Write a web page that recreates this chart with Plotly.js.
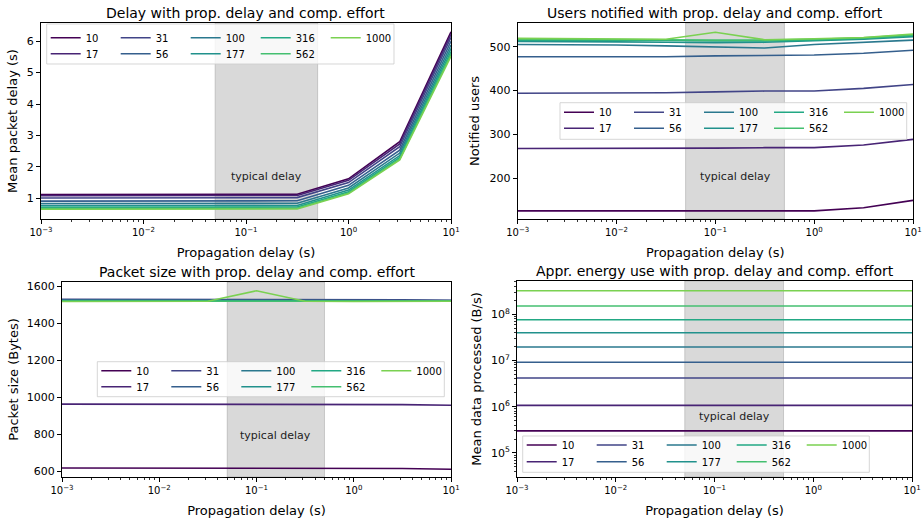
<!DOCTYPE html>
<html>
<head>
<meta charset="utf-8">
<script src="https://cdn.plot.ly/plotly-3.0.1.min.js"></script>
<style>html,body{margin:0;padding:0;background:#fff;}#chart{width:922px;height:521px;}</style>
</head>
<body>
<div id="chart"></div>
<script>
// ---- data ----
const efforts = ['10', '17', '31', '56', '100', '177', '316', '562', '1000'];
const propDelay = [0.001, 0.00316, 0.01, 0.0316, 0.1, 0.316, 1, 3.16, 10];

const delay10   = [1.12, 1.12, 1.12, 1.12, 1.12, 1.13, 1.62, 2.80, 6.30];
const delay17   = [1.08, 1.08, 1.08, 1.08, 1.08, 1.09, 1.57, 2.73, 6.22];
const delay31   = [1.01, 1.01, 1.01, 1.01, 1.01, 1.02, 1.50, 2.64, 6.12];
const delay56   = [0.91, 0.91, 0.91, 0.91, 0.91, 0.92, 1.41, 2.53, 6.00];
const delay100  = [0.83, 0.83, 0.83, 0.83, 0.83, 0.84, 1.33, 2.44, 5.88];
const delay177  = [0.76, 0.76, 0.76, 0.76, 0.76, 0.77, 1.26, 2.36, 5.77];
const delay316  = [0.71, 0.71, 0.71, 0.71, 0.71, 0.72, 1.21, 2.30, 5.67];
const delay562  = [0.67, 0.67, 0.67, 0.67, 0.67, 0.68, 1.17, 2.25, 5.59];
const delay1000 = [0.65, 0.65, 0.65, 0.65, 0.65, 0.66, 1.14, 2.22, 5.52];

const users10   = [126, 126, 126, 126, 126, 127, 126, 133, 150];
const users17   = [268, 268, 268, 268, 269, 270, 270, 276, 289];
const users31   = [394, 394, 395, 395, 397, 399, 399, 405, 414];
const users56   = [477, 477, 477, 477, 479, 480, 481, 485, 492];
const users100  = [505, 505, 504, 502, 500, 497, 505, 510, 515];
const users177  = [512, 512, 511, 510, 509, 510, 513, 517, 523];
const users316  = [515, 515, 515, 514, 513, 513, 515, 519, 525];
const users562  = [517, 517, 517, 516, 515, 515, 517, 520, 527];
const users1000 = [519, 518, 517, 517, 533, 516, 518, 521, 529];

const size10   = [620, 620, 620, 620, 620, 619, 618, 617, 613];
const size17   = [965, 965, 964, 964, 964, 963, 963, 962, 959];
const size31   = [1531, 1531, 1531, 1531, 1530, 1530, 1530, 1529, 1526];
const size56   = [1528, 1528, 1528, 1528, 1528, 1528, 1527, 1526, 1525];
const size100  = [1526, 1526, 1526, 1526, 1526, 1526, 1525, 1525, 1524];
const size177  = [1524, 1524, 1524, 1524, 1524, 1524, 1524, 1523, 1523];
const size316  = [1522, 1522, 1522, 1522, 1522, 1522, 1522, 1522, 1522];
const size562  = [1521, 1521, 1521, 1521, 1521, 1521, 1521, 1521, 1521];
const size1000 = [1520, 1520, 1520, 1521, 1578, 1521, 1520, 1520, 1521];

const data10   = [3.0e5, 3.0e5, 3.0e5, 3.0e5, 3.0e5, 3.0e5, 3.0e5, 3.0e5, 3.0e5];
const data17   = [1.07e6, 1.07e6, 1.07e6, 1.07e6, 1.07e6, 1.07e6, 1.07e6, 1.07e6, 1.07e6];
const data31   = [4.2e6, 4.2e6, 4.2e6, 4.2e6, 4.2e6, 4.2e6, 4.2e6, 4.2e6, 4.2e6];
const data56   = [9.2e6, 9.2e6, 9.2e6, 9.2e6, 9.2e6, 9.2e6, 9.2e6, 9.2e6, 9.2e6];
const data100  = [1.96e7, 1.96e7, 1.96e7, 1.96e7, 1.96e7, 1.96e7, 1.96e7, 1.96e7, 1.96e7];
const data177  = [3.98e7, 3.98e7, 3.98e7, 3.98e7, 3.98e7, 3.98e7, 3.98e7, 3.98e7, 3.98e7];
const data316  = [7.6e7, 7.6e7, 7.6e7, 7.6e7, 7.6e7, 7.6e7, 7.6e7, 7.6e7, 7.6e7];
const data562  = [1.51e8, 1.51e8, 1.51e8, 1.51e8, 1.51e8, 1.51e8, 1.51e8, 1.51e8, 1.51e8];
const data1000 = [3.22e8, 3.22e8, 3.22e8, 3.23e8, 3.32e8, 3.23e8, 3.22e8, 3.22e8, 3.22e8];

const xTickVals = [0.001, 0.01, 0.1, 1, 10];
const xTickText = ['10<sup>\u22123</sup>', '10<sup>\u22122</sup>', '10<sup>\u22121</sup>', '10<sup>0</sup>', '10<sup>1</sup>'];
const yTickVals4 = [1e5, 1e6, 1e7, 1e8];
const yTickText4 = ['10<sup>5</sup>', '10<sup>6</sup>', '10<sup>7</sup>', '10<sup>8</sup>'];

const titles = [
  'Delay with prop. delay and comp. effort',
  'Users notified with prop. delay and comp. effort',
  'Packet size with prop. delay and comp. effort',
  'Appr. energy use with prop. delay and comp. effort'
];
const yTitles = ['Mean packet delay (s)', 'Notified users', 'Packet size (Bytes)', 'Mean data processed (B/s)'];
const xTitle = 'Propagation delay (s)';
const typicalLabel = 'typical delay';
const typicalRange = [0.05, 0.5];

// ---- styling ----
const colors = ['#440154', '#482475', '#414487', '#355f8d', '#2a788e', '#21918c', '#22a884', '#44bf70', '#7ad151'];
const W = 922, H = 521;
const FONT = 'DejaVu Sans, Liberation Sans, sans-serif';
const px = v => v / W;
const py = v => 1 - v / H;

// subplot boxes in pixels: [left, right, top, bottom]
const boxes = [
  [41, 451, 23, 219],
  [517.7, 913, 23, 219],
  [62, 451, 282, 477],
  [517, 912, 281, 477]
];

const seriesSets = [
  [delay10, delay17, delay31, delay56, delay100, delay177, delay316, delay562, delay1000],
  [users10, users17, users31, users56, users100, users177, users316, users562, users1000],
  [size10, size17, size31, size56, size100, size177, size316, size562, size1000],
  [data10, data17, data31, data56, data100, data177, data316, data562, data1000]
];

// legend boxes [left, right, top, bottom] and row centres
const legBoxes = [
  [46.7, 394, 24, 64, 37.7, 53.7],
  [560, 906.7, 102.7, 139.3, 112.3, 128.3],
  [97.3, 444.3, 361.7, 396.7, 370.7, 386.7],
  [522.7, 869.3, 436, 472.3, 445, 461.7]
];

const traces = [];
seriesSets.forEach((set, p) => {
  const sfx = p === 0 ? '' : String(p + 1);
  set.forEach((ys, i) => {
    const row = (i % 2 === 0) ? 0 : 1;
    const legName = 'legend' + ((p * 2 + row) === 0 ? '' : String(p * 2 + row + 1));
    traces.push({
      type: 'scatter', mode: 'lines',
      x: propDelay, y: ys,
      name: efforts[i],
      xaxis: 'x' + sfx, yaxis: 'y' + sfx,
      line: {color: colors[i], width: 1.6},
      legend: legName,
      showlegend: true
    });
  });
});

function minorVals(lo, hi) {
  const out = [];
  for (let k = lo; k < hi; k++) for (let d = 2; d <= 9; d++) out.push(d * Math.pow(10, k));
  return out;
}

const layout = {
  width: W, height: H,
  margin: {l: 0, r: 0, t: 0, b: 0},
  paper_bgcolor: '#ffffff', plot_bgcolor: '#ffffff',
  font: {family: FONT, color: '#000', size: 11},
  shapes: [], annotations: []
};

const yRanges = [[0.34, 6.58], [107.5, 554], [571, 1625], [4.48, 8.72]];
const yTicks = [[1, 2, 3, 4, 5, 6], [200, 300, 400, 500], [600, 800, 1000, 1200, 1400, 1600], yTickVals4];
const typY = [1.69, 204, 798, 5.78];
const yStand = [6, 6, 5, 6];

boxes.forEach((b, p) => {
  const sfx = p === 0 ? '' : String(p + 1);
  const axBase = {
    showline: true, mirror: true, linecolor: '#000', linewidth: 1,
    ticks: 'outside', ticklen: 4, tickwidth: 1, tickcolor: '#000',
    showgrid: false, zeroline: false, ticklabeloverflow: 'allow'
  };
  layout['xaxis' + sfx] = Object.assign({}, axBase, {
    type: 'log', range: [-3, 1], domain: [px(b[0]), px(b[1])],
    anchor: 'y' + sfx,
    tickfont: {family: FONT, size: 10, color: '#000'},
    tickmode: 'array', tickvals: xTickVals, ticktext: xTickText,
    minor: {ticks: 'outside', ticklen: 2, tickwidth: 0.8, tickcolor: '#000', tickmode: 'array', tickvals: minorVals(-3, 1), showgrid: false},
    title: {text: xTitle, font: {family: FONT, size: 13, color: '#000'}, standoff: 10}
  });
  const yax = Object.assign({}, axBase, {
    domain: [py(b[3]), py(b[2])], anchor: 'x' + sfx,
    tickfont: {family: FONT, size: 11, color: '#000'},
    title: {text: yTitles[p], font: {family: FONT, size: 13, color: '#000'}, standoff: yStand[p]}
  });
  if (p === 3) {
    Object.assign(yax, {
      type: 'log', range: yRanges[p], tickmode: 'array', tickvals: yTickVals4, ticktext: yTickText4,
      minor: {ticks: 'outside', ticklen: 2, tickwidth: 0.8, tickcolor: '#000', tickmode: 'array', tickvals: minorVals(4, 9), showgrid: false}
    });
  } else {
    Object.assign(yax, {range: yRanges[p], tickmode: 'array', tickvals: yTicks[p]});
  }
  layout['yaxis' + sfx] = yax;

  // shaded typical delay band
  layout.shapes.push({
    type: 'rect', layer: 'below', xref: 'x' + sfx, yref: 'y' + sfx + ' domain',
    x0: typicalRange[0], x1: typicalRange[1], y0: 0, y1: 1,
    fillcolor: 'rgba(128,128,128,0.3)', line: {color: 'rgba(128,128,128,0.35)', width: 1}
  });
  layout.annotations.push({
    xref: 'x' + sfx, yref: 'y' + sfx, x: -0.8, y: typY[p], text: typicalLabel,
    showarrow: false, xanchor: 'center', yanchor: 'middle',
    font: {family: FONT, size: 11, color: '#222'}
  });
  // subplot title
  layout.annotations.push({
    xref: 'paper', yref: 'paper', x: px((b[0] + b[1]) / 2), y: py(b[2] - 10.5),
    text: titles[p], showarrow: false, xanchor: 'center', yanchor: 'middle',
    font: {family: FONT, size: 14, color: '#000'}
  });
  // legend frame
  const lb = legBoxes[p];
  layout.shapes.push({
    type: 'rect', layer: 'above', xref: 'paper', yref: 'paper',
    x0: px(lb[0]), x1: px(lb[1]), y0: py(lb[3]), y1: py(lb[2]),
    fillcolor: 'rgba(255,255,255,0.8)', line: {color: 'rgba(204,204,204,0.8)', width: 1}
  });
  for (let r = 0; r < 2; r++) {
    const idx = p * 2 + r;
    const key = 'legend' + (idx === 0 ? '' : String(idx + 1));
    layout[key] = {
      x: px(lb[0] - 1), y: py(lb[4 + r]), xanchor: 'left', yanchor: 'middle',
      orientation: 'h', bgcolor: 'rgba(0,0,0,0)', borderwidth: 0,
      entrywidth: 25, entrywidthmode: 'pixels', itemwidth: 30,
      font: {family: FONT, size: 10, color: '#000'},
      tracegroupgap: 0, itemclick: false
    };
  }
});

Plotly.newPlot('chart', traces, layout, {displayModeBar: false, staticPlot: true});
</script>
</body>
</html>
